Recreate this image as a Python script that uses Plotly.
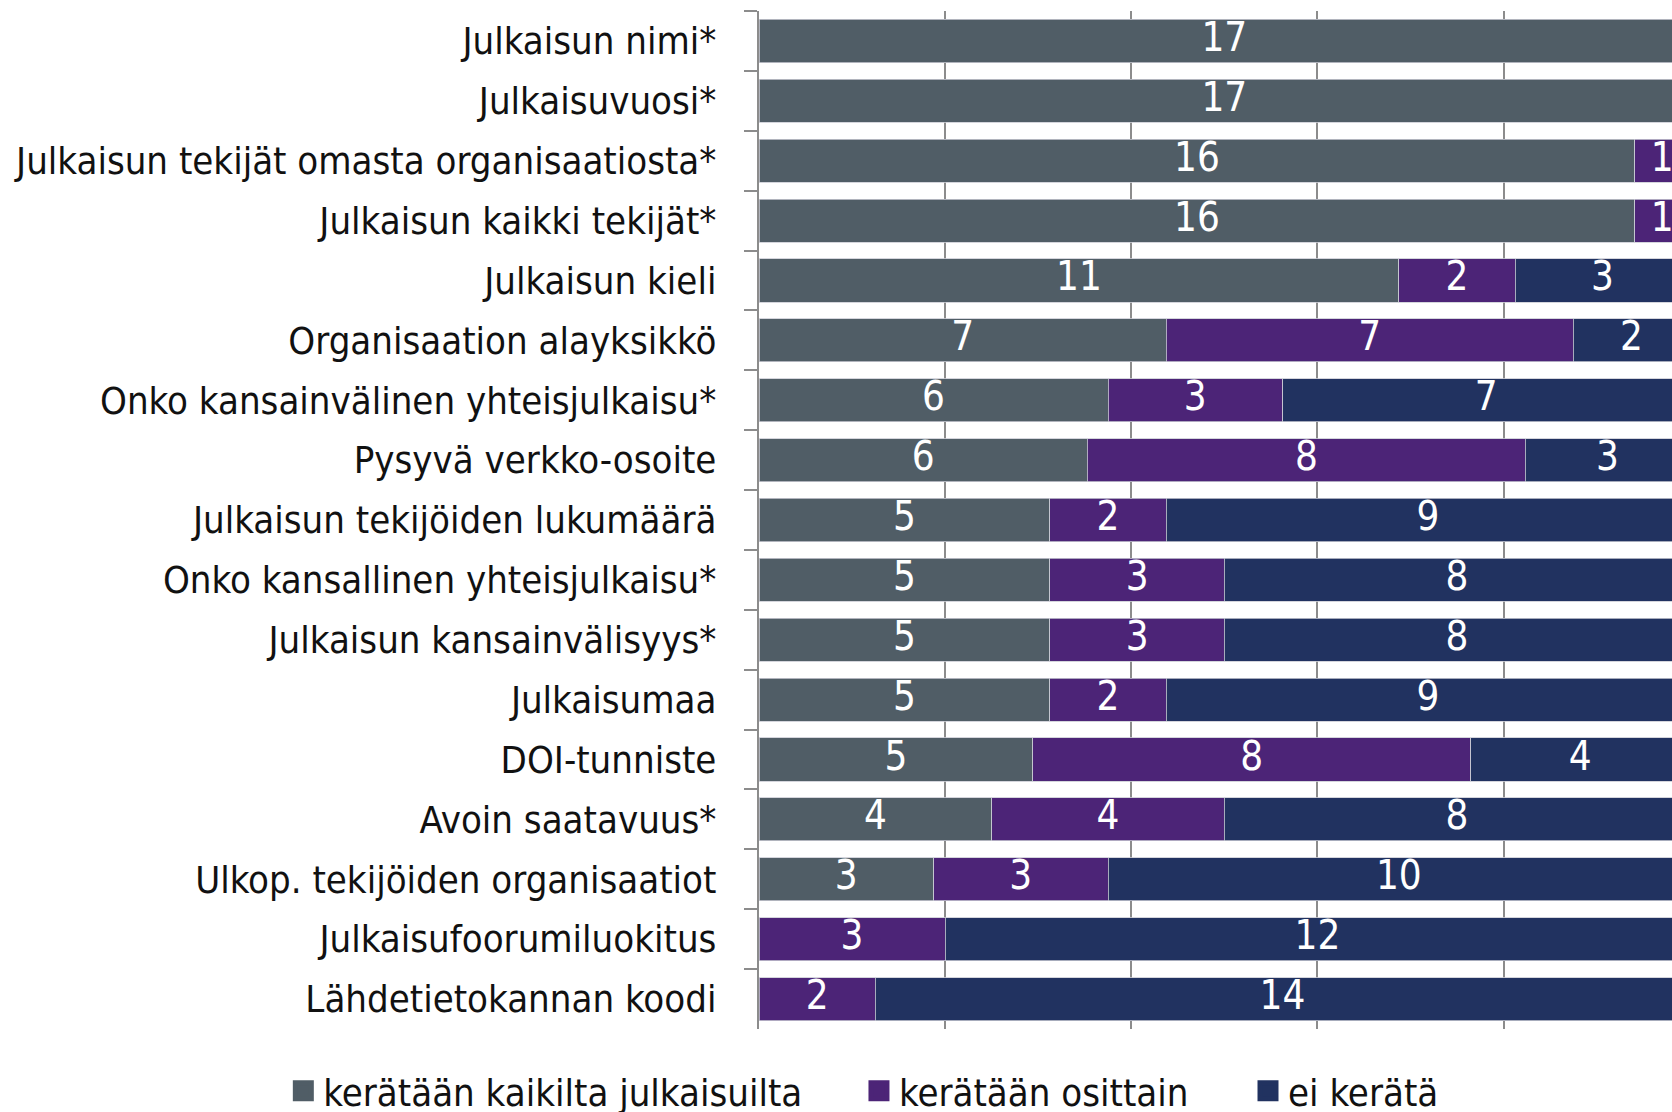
import plotly.graph_objects as go

categories = [
    "Julkaisun nimi*",
    "Julkaisuvuosi*",
    "Julkaisun tekijät omasta organisaatiosta*",
    "Julkaisun kaikki tekijät*",
    "Julkaisun kieli",
    "Organisaation alayksikkö",
    "Onko kansainvälinen yhteisjulkaisu*",
    "Pysyvä verkko-osoite",
    "Julkaisun tekijöiden lukumäärä",
    "Onko kansallinen yhteisjulkaisu*",
    "Julkaisun kansainvälisyys*",
    "Julkaisumaa",
    "DOI-tunniste",
    "Avoin saatavuus*",
    "Ulkop. tekijöiden organisaatiot",
    "Julkaisufoorumiluokitus",
    "Lähdetietokannan koodi",
]
kaikilta = [17, 17, 16, 16, 11, 7, 6, 6, 5, 5, 5, 5, 5, 4, 3, 0, 0]
osittain = [0, 0, 1, 1, 2, 7, 3, 8, 2, 3, 3, 2, 8, 4, 3, 3, 2]
ei_kerata = [0, 0, 0, 0, 3, 2, 7, 3, 9, 8, 8, 9, 4, 8, 10, 12, 14]

series_names = ["kerätään kaikilta julkaisuilta", "kerätään osittain", "ei kerätä"]
series_values = [kaikilta, osittain, ei_kerata]
colors = ["#505D66", "#4C2477", "#213260"]

FONT = "DejaVu Sans Condensed, Liberation Sans Narrow, sans-serif"

totals = [sum(v) for v in zip(*series_values)]

fig = go.Figure()

cum = [0] * len(categories)
for name, vals, col in zip(series_names, series_values, colors):
    fracs = [v / t for v, t in zip(vals, totals)]
    fig.add_trace(go.Bar(
        y=categories, x=fracs, orientation="h", name=name,
        marker=dict(color=col, line=dict(color="#c9cbd3", width=0.8)),
        showlegend=False, hoverinfo="skip",
    ))
    # labels at segment centers
    lx, ly, lt = [], [], []
    for i, (v, t) in enumerate(zip(vals, totals)):
        if v > 0:
            lx.append((cum[i] + v / 2) / t)
            ly.append(categories[i])
            lt.append(str(v))
        cum[i] += v
    fig.add_trace(go.Scatter(
        x=lx, y=ly, text=lt, mode="text", textposition="middle center",
        textfont=dict(family=FONT, size=40, color="white"),
        showlegend=False, hoverinfo="skip", cliponaxis=True,
    ))

legend_ids = ["legend", "legend2", "legend3"]
legend_x = [-0.521, 0.1095, 0.5356]
for name, col, lid in zip(series_names, colors, legend_ids):
    fig.add_trace(go.Scatter(
        x=[None], y=[None], mode="markers", name=name,
        marker=dict(symbol="square", size=16, color=col, line=dict(color=col, width=5)),
        showlegend=True, legend=lid,
    ))

legend_common = dict(
    orientation="h", yanchor="middle", y=-0.061, xanchor="left",
    font=dict(family=FONT, size=38, color="#111111"),
    bgcolor="rgba(0,0,0,0)", itemwidth=30, tracegroupgap=0,
)

n = len(categories)
fig.update_layout(
    width=1672, height=1112,
    barmode="stack", bargap=0.28,
    paper_bgcolor="white", plot_bgcolor="white",
    margin=dict(l=759, r=0, t=11, b=83, autoexpand=False),
    font=dict(family=FONT, size=38, color="#111111"),
    legend=dict(x=legend_x[0], **legend_common),
    legend2=dict(x=legend_x[1], **legend_common),
    legend3=dict(x=legend_x[2], **legend_common),
    xaxis=dict(
        range=[0, 0.981], dtick=0.2, tick0=0, showticklabels=False,
        showgrid=True, gridcolor="#8c8c8c", gridwidth=1.5,
        zeroline=False, showline=False, fixedrange=True,
    ),
    yaxis=dict(
        categoryorder="array", categoryarray=categories,
        range=[n - 0.5, -0.5], autorange=False,
        tickson="boundaries", ticks="outside", ticklen=13, tickwidth=2,
        tickcolor="#8c8c8c", showline=True, linecolor="#8c8c8c", linewidth=2,
        showgrid=False, ticklabelstandoff=33,
        tickfont=dict(family=FONT, size=38, color="#111111"),
    ),
)

fig.write_html(
    "out.html",
    config={"displayModeBar": False},
    post_script="document.body.style.margin='0';document.body.style.overflow='hidden';",
)
